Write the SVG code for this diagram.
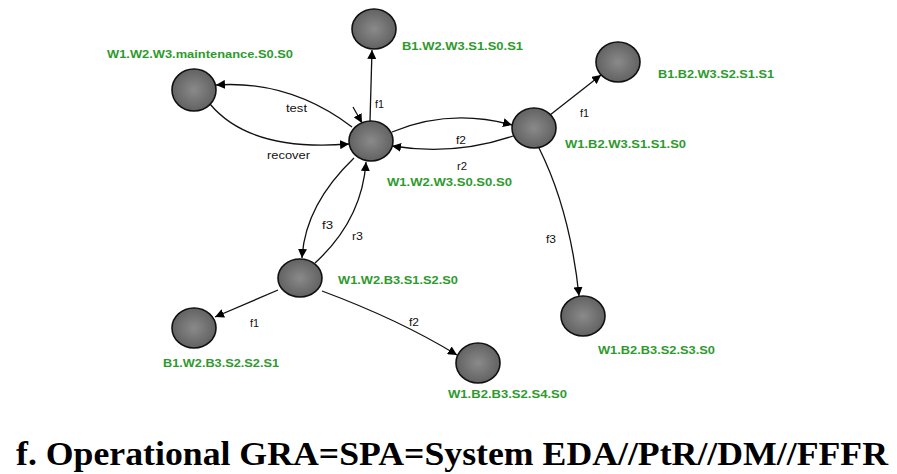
<svg xmlns="http://www.w3.org/2000/svg" width="897" height="474" viewBox="0 0 897 474">
<defs>
<radialGradient id="g" cx="50%" cy="50%" r="55%">
<stop offset="0" stop-color="#8a8a8a"/>
<stop offset="1" stop-color="#5e5e5e"/>
</radialGradient>
<marker id="a" viewBox="0 0 10 10" refX="10" refY="5" markerWidth="9" markerHeight="9" markerUnits="userSpaceOnUse" orient="auto">
<path d="M0,0 L10,5 L0,10 z" fill="#000"/>
</marker>
<style>
.n{fill:url(#g);stroke:#111;stroke-width:1.6}
.l{font-family:"Liberation Sans",Arial,sans-serif;font-size:11px;font-weight:bold;fill:#2e9a2e}
.e{font-family:"Liberation Sans",Arial,sans-serif;font-size:11px;fill:#111}
.c path{fill:none;stroke:#111;stroke-width:1.3;marker-end:url(#a)}
.t{font-family:"Liberation Serif","Times New Roman",serif;font-size:34px;font-weight:bold;fill:#000}
</style>
</defs>
<rect width="897" height="474" fill="#fff"/>
<g class="c" id="connectors">
<path d="M370,121 L372,50"/>
<path d="M352,127 Q290,80 216,85"/>
<path d="M210,104 Q250,152 349,144"/>
<path d="M353,107 L362,123"/>
<path d="M392,132 Q450,108 512,125"/>
<path d="M513,136 Q455,156 392,146"/>
<path d="M550,115 L601,75"/>
<path d="M539,148 Q570,210 579,296"/>
<path d="M354,158 Q305,205 302,258"/>
<path d="M315,263 Q362,220 366,162"/>
<path d="M278,290 L215,317"/>
<path d="M322,291 Q400,320 457,355"/>
</g>
<g id="edge-labels">
<text class="e" x="286" y="112" textLength="21" lengthAdjust="spacingAndGlyphs">test</text>
<text class="e" x="375" y="108" textLength="9" lengthAdjust="spacingAndGlyphs">f1</text>
<text class="e" x="267" y="159" textLength="43" lengthAdjust="spacingAndGlyphs">recover</text>
<text class="e" x="580" y="117" textLength="9" lengthAdjust="spacingAndGlyphs">f1</text>
<text class="e" x="456" y="144" textLength="10" lengthAdjust="spacingAndGlyphs">f2</text>
<text class="e" x="457" y="170" textLength="10" lengthAdjust="spacingAndGlyphs">r2</text>
<text class="e" x="322" y="229" textLength="11" lengthAdjust="spacingAndGlyphs">f3</text>
<text class="e" x="352" y="240" textLength="11" lengthAdjust="spacingAndGlyphs">r3</text>
<text class="e" x="250" y="327" textLength="9" lengthAdjust="spacingAndGlyphs">f1</text>
<text class="e" x="409" y="326" textLength="10" lengthAdjust="spacingAndGlyphs">f2</text>
<text class="e" x="546" y="243" textLength="10" lengthAdjust="spacingAndGlyphs">f3</text>
</g>
<g id="n-central">
<ellipse class="n" cx="371" cy="141" rx="22" ry="20"/>
<text class="l" x="387" y="186" textLength="125" lengthAdjust="spacingAndGlyphs">W1.W2.W3.S0.S0.S0</text>
</g>
<g id="n-top">
<ellipse class="n" cx="374" cy="29" rx="22" ry="20"/>
<text class="l" x="402" y="50" textLength="121" lengthAdjust="spacingAndGlyphs">B1.W2.W3.S1.S0.S1</text>
</g>
<g id="n-maintenance">
<ellipse class="n" cx="194" cy="90" rx="22" ry="21"/>
<text class="l" x="107" y="58" textLength="186" lengthAdjust="spacingAndGlyphs">W1.W2.W3.maintenance.S0.S0</text>
</g>
<g id="n-right">
<ellipse class="n" cx="534" cy="128" rx="22" ry="20"/>
<text class="l" x="565" y="148" textLength="121" lengthAdjust="spacingAndGlyphs">W1.B2.W3.S1.S1.S0</text>
</g>
<g id="n-topright">
<ellipse class="n" cx="618" cy="62" rx="22" ry="20"/>
<text class="l" x="658" y="78" textLength="116" lengthAdjust="spacingAndGlyphs">B1.B2.W3.S2.S1.S1</text>
</g>
<g id="n-lower">
<ellipse class="n" cx="300" cy="278" rx="22" ry="19"/>
<text class="l" x="338" y="284" textLength="120" lengthAdjust="spacingAndGlyphs">W1.W2.B3.S1.S2.S0</text>
</g>
<g id="n-lowerleft">
<ellipse class="n" cx="194" cy="328" rx="22" ry="20"/>
<text class="l" x="163" y="367" textLength="116" lengthAdjust="spacingAndGlyphs">B1.W2.B3.S2.S2.S1</text>
</g>
<g id="n-bottom">
<ellipse class="n" cx="478" cy="363" rx="22" ry="20"/>
<text class="l" x="448" y="398" textLength="119" lengthAdjust="spacingAndGlyphs">W1.B2.B3.S2.S4.S0</text>
</g>
<g id="n-rightbottom">
<ellipse class="n" cx="583" cy="316" rx="22" ry="20"/>
<text class="l" x="598" y="354" textLength="117" lengthAdjust="spacingAndGlyphs">W1.B2.B3.S2.S3.S0</text>
</g>
<text class="t" x="16" y="465" textLength="872" lengthAdjust="spacingAndGlyphs">f. Operational GRA=SPA=System EDA//PtR//DM//FFFR</text>
</svg>
